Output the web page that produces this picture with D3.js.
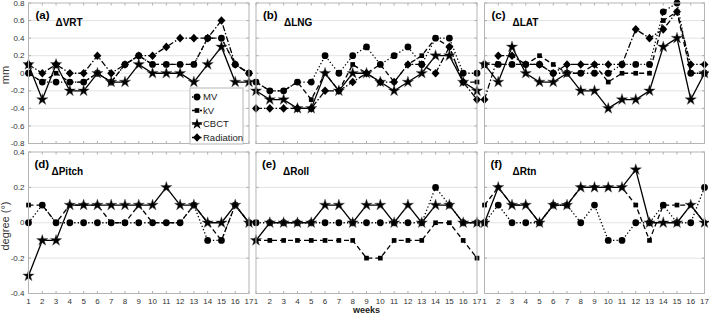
<!DOCTYPE html>
<html><head><meta charset="utf-8">
<script src="https://cdn.jsdelivr.net/npm/d3@7"></script>
<style>
html,body{margin:0;padding:0;background:#fff;}
svg{display:block;font-family:"Liberation Sans",Arial,Helvetica,sans-serif;}
</style></head>
<body>
<svg id="chart" width="709" height="314"></svg>
<script>
// ---------- data ----------
const weeks = [1,2,3,4,5,6,7,8,9,10,11,12,13,14,15,16,17];
const seriesNames = ["MV","kV","CBCT","Radiation"];
const panelLetters = ["(a)","(b)","(c)","(d)","(e)","(f)"];
const panelTitles = ["\u0394VRT","\u0394LNG","\u0394LAT","\u0394Pitch","\u0394Roll","\u0394Rtn"];
const topTicks = [-0.8,-0.6,-0.4,-0.2,0,0.2,0.4,0.6,0.8];
const topTickLabels = ["-0.8","-0.6","-0.4","-0.2","0","0.2","0.4","0.6","0.8"];
const bottomTicks = [-0.4,-0.2,0,0.2,0.4];
const bottomTickLabels = ["-0.4","-0.2","0","0.2","0.4"];

// (a) VRT
const vrtMV   = [0,-0.1,-0.1,-0.1,-0.1,0,-0.1,0.1,0.2,0.1,0.1,0.1,0.1,0.4,0.4,0.1,0];
const vrtKV   = [0,-0.1,0,-0.1,-0.1,0,-0.1,0.1,0.2,0.1,0.1,0.1,0.1,0.4,0.4,0.1,0];
const vrtCBCT = [0.1,-0.3,0.1,-0.2,-0.2,0,-0.1,-0.1,0.1,0,0,0,-0.1,0.1,0.3,-0.1,-0.1];
const vrtRad  = [0.1,0,0.1,0,0,0.2,0,0.1,0.2,0.2,0.3,0.4,0.4,0.4,0.6,0.1,0];
// (b) LNG
const lngMV   = [-0.1,-0.2,-0.2,-0.1,-0.1,0.2,0,0.2,0.3,0.1,0.2,0.3,0.1,0.4,0.4,0,0];
const lngKV   = [-0.1,-0.2,-0.2,-0.1,-0.3,0,-0.2,0.1,0,0.1,-0.1,0.1,0.2,0.4,0.3,-0.1,-0.1];
const lngCBCT = [-0.2,-0.3,-0.3,-0.4,-0.4,0,-0.2,0,0,-0.1,-0.2,-0.1,0,0.2,0.2,-0.1,-0.2];
const lngRad  = [-0.4,-0.4,-0.4,-0.4,-0.4,-0.2,-0.2,-0.1,0,-0.1,-0.1,0.1,0.1,0,0.3,-0.1,-0.3];
// (c) LAT
const latMV   = [0.1,0.1,0.1,0.1,0.1,0,0,0,0,0,0.1,0.1,0.1,0.7,0.8,0,0];
const latKV   = [0.1,0.1,0.1,0.1,0.2,0.1,0,0,0.1,-0.1,0,0,0,0.6,0.7,0,0];
const latCBCT = [0.1,-0.1,0.3,0,-0.1,-0.1,0,-0.2,-0.2,-0.4,-0.3,-0.3,-0.2,0.3,0.4,-0.3,0];
const latRad  = [-0.3,0.2,0.2,0.1,0.1,0,0.1,0.1,0.1,0.1,0.1,0.5,0.4,0.5,0.7,0.1,0.1];
// (d) Pitch
const pitchMV   = [0,0.1,0,0,0,0,0,0,0,0,0,0,0.1,-0.1,-0.1,0.1,0];
const pitchKV   = [0.1,0.1,0,0.1,0.1,0.1,0,0,0.1,0,0,0,0.1,0,-0.1,0.1,0];
const pitchCBCT = [-0.3,-0.1,-0.1,0.1,0.1,0.1,0.1,0.1,0.1,0.1,0.2,0.1,0.1,0,0,0.1,0];
// (e) Roll
const rollMV   = [0,0,0,0,0,0,0,0,0,0,0,0,0,0.2,0.1,0,0];
const rollKV   = [-0.1,-0.1,-0.1,-0.1,-0.1,-0.1,-0.1,-0.1,-0.2,-0.2,-0.1,-0.1,-0.1,0,0,-0.1,-0.2];
const rollCBCT = [-0.1,0,0,0,0,0.1,0.1,0,0.1,0.1,0,0.1,0,0.1,0.1,0,0];
// (f) Rtn
const rtnMV   = [0,0.1,0,0,0,0.1,0.1,0,0.1,-0.1,-0.1,0,0,0.1,0,0,0.2];
const rtnKV   = [0.1,0.2,0.1,0.1,0,0.1,0.1,0.2,0.2,0.2,0.2,0.1,-0.1,0.1,0.1,0.1,0];
const rtnCBCT = [0,0.2,0.1,0.1,0,0.1,0.1,0.2,0.2,0.2,0.2,0.3,0,0,0,0.1,0];

const panelSeries = [
  [vrtMV, vrtKV, vrtCBCT, vrtRad],
  [lngMV, lngKV, lngCBCT, lngRad],
  [latMV, latKV, latCBCT, latRad],
  [pitchMV, pitchKV, pitchCBCT, null],
  [rollMV, rollKV, rollCBCT, null],
  [rtnMV, rtnKV, rtnCBCT, null]
];

// ---------- layout / style ----------
const colX = [[28.5,249],[256,477],[484.5,704.5]];
const rowY = [[3,143.5],[152,293.5]];
const dashes = ["1.3,2.2", "5,3", null, "6,2,1.5,2"];
const titleDx = [27,28,28,23,27,28];

const star = d3.symbol().type(d3.symbolStar).size(40)();
const markerPath = [
  d3.symbol().type(d3.symbolCircle).size(36)(),
  d3.symbol().type(d3.symbolSquare).size(22)(),
  star,
  "M0,-4.3L4,0L0,4.3L-4,0Z"
];

const svg = d3.select("#chart");
svg.append("rect").attr("width",709).attr("height",314).attr("fill","#fff");

for (let p = 0; p < 6; p++) {
  const r = Math.floor(p/3), c = p % 3;
  const [x0,x1] = colX[c], [y0,y1] = rowY[r];
  const ticks = r === 0 ? topTicks : bottomTicks;
  const tickLabels = r === 0 ? topTickLabels : bottomTickLabels;
  const x = d3.scaleLinear().domain([1,17]).range([x0,x1]);
  const y = d3.scaleLinear().domain(r === 0 ? [-0.8,0.8] : [-0.4,0.4]).range([y1,y0]);
  const g = svg.append("g");

  // gridlines
  g.selectAll("line.grid").data(ticks.slice(1,-1)).join("line")
    .attr("x1",x0).attr("x2",x1).attr("y1",d=>y(d)).attr("y2",d=>y(d))
    .attr("stroke","#e3e3e3").attr("stroke-width",1);

  // tick marks (inside, all four sides)
  g.selectAll("line.xtb").data(weeks).join("line")
    .attr("x1",d=>x(d)).attr("x2",d=>x(d)).attr("y1",y1).attr("y2",y1-2.5)
    .attr("stroke","#999").attr("stroke-width",0.8);
  g.selectAll("line.xtt").data(weeks).join("line")
    .attr("x1",d=>x(d)).attr("x2",d=>x(d)).attr("y1",y0).attr("y2",y0+2.5)
    .attr("stroke","#999").attr("stroke-width",0.8);
  g.selectAll("line.ytl").data(ticks).join("line")
    .attr("x1",x0).attr("x2",x0+2.5).attr("y1",d=>y(d)).attr("y2",d=>y(d))
    .attr("stroke","#999").attr("stroke-width",0.8);
  g.selectAll("line.ytr").data(ticks).join("line")
    .attr("x1",x1).attr("x2",x1-2.5).attr("y1",d=>y(d)).attr("y2",d=>y(d))
    .attr("stroke","#999").attr("stroke-width",0.8);

  // series lines
  const line = d3.line().x((d,i)=>x(weeks[i])).y(d=>y(d));
  panelSeries[p].forEach((vals,s) => {
    if (!vals) return;
    g.append("path").datum(vals).attr("d",line)
      .attr("fill","none").attr("stroke","#000").attr("stroke-width",1.3)
      .attr("stroke-dasharray",dashes[s]);
  });
  panelSeries[p].forEach((vals,s) => {
    if (!vals) return;
    g.selectAll(null).data(vals).join("path")
      .attr("d",markerPath[s])
      .attr("transform",(d,i)=>`translate(${x(weeks[i])},${y(d)})`)
      .attr("fill","#000").attr("stroke", s===2 ? "#555" : "none").attr("stroke-width",0.4);
  });

  // border
  g.append("rect").attr("x",x0).attr("y",y0).attr("width",x1-x0).attr("height",y1-y0)
    .attr("fill","none").attr("stroke","#b5b5b5").attr("stroke-width",1);

  // y tick labels
  if (c === 0) {
    g.selectAll("text.yl").data(ticks).join("text")
      .attr("x",x0-4).attr("y",d=>y(d)).attr("dy","0.33em")
      .attr("text-anchor","end").attr("font-size",8).attr("fill","#333")
      .text((d,i)=>tickLabels[i]);
  }
  // x tick labels
  if (r === 1) {
    g.selectAll("text.xl").data(weeks).join("text")
      .attr("x",d=>x(d)).attr("y",y1+10.5)
      .attr("text-anchor","middle").attr("font-size",8).attr("fill","#333")
      .text(d=>d);
  }
  // panel labels
  g.append("text").attr("x",x0+(r===0?7:6)).attr("y",y0+15.5)
    .attr("font-size",11.5).attr("font-weight","bold").attr("fill","#000").text(panelLetters[p]);
  g.append("text").attr("x",x0+titleDx[p]).attr("y",y0+22.5)
    .attr("font-size",10).attr("font-weight","bold").attr("fill","#000").text(panelTitles[p]);
}

// axis titles
svg.append("text").attr("transform","translate(8.5,75) rotate(-90)")
  .attr("text-anchor","middle").attr("font-size",11).attr("fill","#333").text("mm");
svg.append("text").attr("transform","translate(8.5,226) rotate(-90)")
  .attr("text-anchor","middle").attr("font-size",11).attr("fill","#333").text("degree (\u00B0)");
svg.append("text").attr("x",366.5).attr("y",312.5)
  .attr("text-anchor","middle").attr("font-size",9).attr("font-weight","bold").attr("fill","#222").text("weeks");

// legend
const lg = svg.append("g");
lg.append("rect").attr("x",190).attr("y",88).attr("width",53).attr("height",56)
  .attr("fill","#fff").attr("stroke","#b5b5b5").attr("stroke-width",1);
const legendY = [97,110.5,124,137.5];
seriesNames.forEach((name,s) => {
  lg.append("line").attr("x1",192).attr("x2",202).attr("y1",legendY[s]).attr("y2",legendY[s])
    .attr("stroke","#000").attr("stroke-width",1.3).attr("stroke-dasharray",dashes[s]);
  lg.append("path").attr("d",markerPath[s]).attr("transform",`translate(197,${legendY[s]})`)
    .attr("fill","#000");
  lg.append("text").attr("x",203).attr("y",legendY[s]).attr("dy","0.35em")
    .attr("font-size",9.5).attr("fill","#222").text(name);
});
</script>
</body></html>
